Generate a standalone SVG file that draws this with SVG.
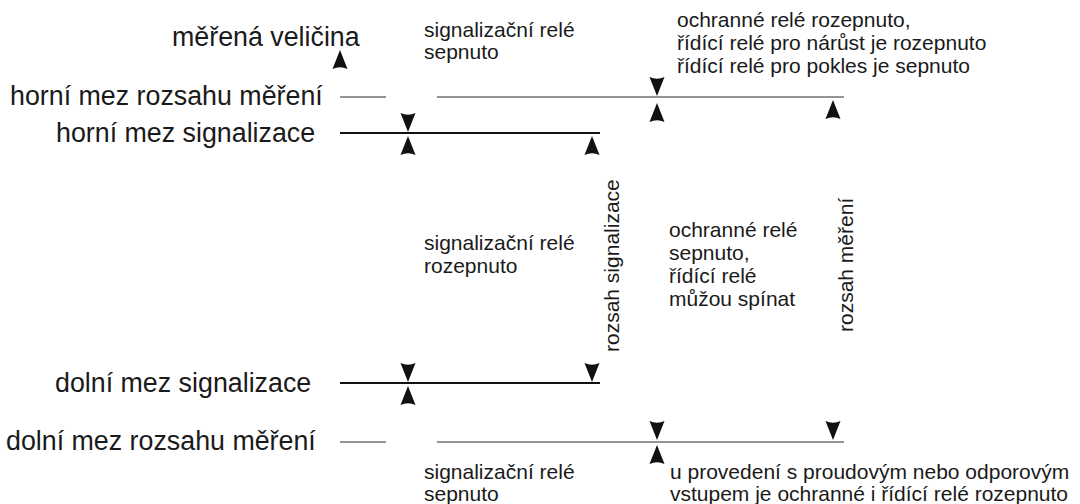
<svg xmlns="http://www.w3.org/2000/svg" xmlns:xlink="http://www.w3.org/1999/xlink" width="1080" height="504" viewBox="0 0 1080 504">
<style>
text{font-family:"Liberation Sans",Arial,sans-serif;fill:#1a1a1a}
.big{font-size:26.8px}
.sm{font-size:21px}
.meas{stroke:#707070;stroke-width:1.4;fill:none}
.sig{stroke:#111;stroke-width:2;fill:none}
.arr{fill:#111}
</style>
<defs>
<path id="up" class="arr" d="M0,0 L7.5,19 Q0,15.5 -7.5,19 Z"/>
<path id="dn" class="arr" d="M0,0 L-7.5,-19 Q0,-15.5 7.5,-19 Z"/>
</defs>
<rect width="1080" height="504" fill="#fff"/>

<g id="labels-left">
<text class="big" x="172" y="46">měřená veličina</text>
<text class="big" x="10" y="105">horní mez rozsahu měření</text>
<text class="big" x="56" y="142">horní mez signalizace</text>
<text class="big" x="55" y="392">dolní mez signalizace</text>
<text class="big" x="6" y="450">dolní mez rozsahu měření</text>
</g>

<g id="connectors">
<line class="meas" x1="340" y1="97" x2="386" y2="97"/>
<line class="meas" x1="437" y1="97" x2="844" y2="97"/>
<line class="sig" x1="340" y1="133" x2="600" y2="133"/>
<line class="sig" x1="340" y1="383" x2="600" y2="383"/>
<line class="meas" x1="340" y1="442" x2="386" y2="442"/>
<line class="meas" x1="437" y1="442" x2="844" y2="442"/>
<use xlink:href="#up" x="340" y="50"/>
<use xlink:href="#up" x="408" y="136"/>
<use xlink:href="#up" x="592" y="136"/>
<use xlink:href="#up" x="657" y="103"/>
<use xlink:href="#up" x="833" y="100"/>
<use xlink:href="#up" x="408" y="386"/>
<use xlink:href="#up" x="657" y="445"/>
<use xlink:href="#dn" x="408" y="132"/>
<use xlink:href="#dn" x="657" y="96"/>
<use xlink:href="#dn" x="408" y="382"/>
<use xlink:href="#dn" x="592" y="382"/>
<use xlink:href="#dn" x="657" y="440"/>
<use xlink:href="#dn" x="833" y="440"/>
</g>

<g id="state-top-signal">
<text class="sm" x="424" y="37">signalizační relé</text>
<text class="sm" x="424" y="59">sepnuto</text>
</g>
<g id="state-top-protect">
<text class="sm" x="677" y="27">ochranné relé rozepnuto,</text>
<text class="sm" x="677" y="50">řídící relé pro nárůst je rozepnuto</text>
<text class="sm" x="677" y="73">řídící relé pro pokles je sepnuto</text>
</g>
<g id="state-mid-signal">
<text class="sm" x="424" y="250">signalizační relé</text>
<text class="sm" x="424" y="273">rozepnuto</text>
</g>
<g id="state-mid-protect">
<text class="sm" x="669" y="237">ochranné relé</text>
<text class="sm" x="669" y="260">sepnuto,</text>
<text class="sm" x="669" y="283">řídící relé</text>
<text class="sm" x="669" y="306">můžou spínat</text>
</g>
<g id="range-labels">
<text class="sm" transform="translate(619,352) rotate(-90)">rozsah signalizace</text>
<text class="sm" transform="translate(853,332) rotate(-90)">rozsah měření</text>
</g>
<g id="state-bottom-signal">
<text class="sm" x="424" y="479">signalizační relé</text>
<text class="sm" x="424" y="501">sepnuto</text>
</g>
<g id="state-bottom-protect">
<text class="sm" x="670" y="479">u provedení s proudovým nebo odporovým</text>
<text class="sm" x="670" y="501">vstupem je ochranné i řídící relé rozepnuto</text>
</g>
</svg>
